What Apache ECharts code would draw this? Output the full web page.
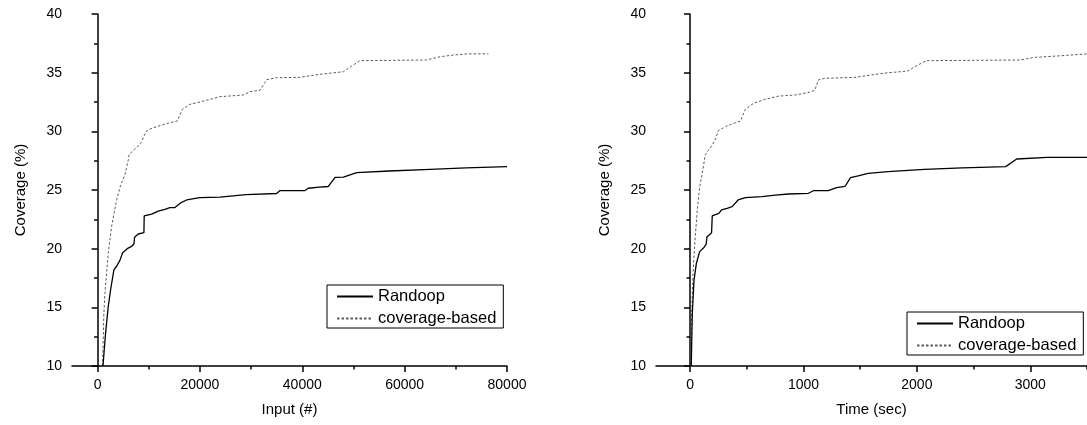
<!DOCTYPE html>
<html>
<head>
<meta charset="utf-8">
<script src="https://cdn.jsdelivr.net/npm/echarts@6/dist/echarts.min.js"></script>
<style>
html,body{margin:0;padding:0;background:#fff;}
#c{width:1087px;height:425px;}
</style>
</head>
<body>
<div id="c"></div>
<script>
// ---- data ----
const seriesNames = ['Randoop', 'coverage-based'];

const inputRandoopX = [1050, 1560, 2080, 2540, 3190, 3710, 4360, 4890, 5790, 6650, 7100, 7230, 7940, 9050, 9110, 10560, 11850, 13160, 14130, 15110, 16220, 17400, 20000, 23900, 29000, 35000, 35640, 36950, 40530, 41170, 43320, 45090, 46400, 48030, 50630, 57000, 64960, 72000, 80000];
const inputRandoopY = [10.0, 12.8, 15.05, 16.5, 18.2, 18.5, 19.0, 19.65, 20.0, 20.2, 20.4, 20.97, 21.25, 21.36, 22.8, 22.95, 23.2, 23.35, 23.5, 23.5, 23.9, 24.15, 24.35, 24.4, 24.6, 24.7, 24.95, 24.95, 24.95, 25.15, 25.25, 25.3, 26.08, 26.1, 26.48, 26.62, 26.76, 26.88, 26.99];

const inputCoverageX = [970, 1230, 1430, 2080, 2740, 3710, 4500, 5340, 5990, 6180, 7620, 8600, 9440, 10090, 11850, 14130, 15570, 16620, 18050, 20000, 23910, 28470, 29770, 31730, 33040, 35000, 39550, 43460, 48030, 49660, 51280, 64320, 66920, 69520, 72140, 76360];
const inputCoverageY = [10.0, 14.5, 16.2, 19.6, 21.9, 24.15, 25.4, 26.3, 27.55, 28.05, 28.6, 29.1, 29.97, 30.17, 30.45, 30.74, 30.88, 31.9, 32.3, 32.5, 32.95, 33.1, 33.38, 33.5, 34.4, 34.57, 34.6, 34.86, 35.08, 35.57, 36.02, 36.08, 36.36, 36.5, 36.6, 36.6];

const timeRandoopX = [11, 20, 35, 56, 85, 123, 143, 149, 190, 196, 254, 278, 327, 371, 424, 488, 634, 752, 868, 1044, 1088, 1219, 1292, 1366, 1415, 1482, 1570, 1746, 2067, 2400, 2783, 2880, 3149, 3500];
const timeRandoopY = [10.0, 14.5, 17.3, 18.75, 19.75, 20.1, 20.4, 21.0, 21.36, 22.8, 23.0, 23.3, 23.44, 23.58, 24.15, 24.35, 24.43, 24.57, 24.66, 24.72, 24.94, 24.94, 25.2, 25.3, 26.05, 26.2, 26.42, 26.56, 26.76, 26.88, 26.99, 27.64, 27.78, 27.78];

const timeCoverageX = [6, 15, 26, 44, 64, 85, 108, 132, 137, 196, 225, 249, 313, 371, 444, 488, 561, 664, 781, 927, 1040, 1100, 1132, 1190, 1454, 1702, 1921, 1980, 2082, 2915, 3032, 3237, 3500];
const timeCoverageY = [10.0, 14.5, 17.9, 20.74, 23.3, 25.28, 26.42, 27.84, 28.04, 28.84, 29.35, 30.06, 30.4, 30.63, 30.88, 31.88, 32.39, 32.73, 33.0, 33.1, 33.3, 33.5, 34.38, 34.52, 34.6, 34.95, 35.14, 35.5, 36.02, 36.08, 36.3, 36.42, 36.6];

const inputMajorTicks = [0, 20000, 40000, 60000, 80000];
const inputMinorTicks = [10000, 30000, 50000, 70000];
const timeMajorTicks = [0, 1000, 2000, 3000];
const timeMinorTicks = [500, 1500, 2500, 3500];
const xTitles = ['Input (#)', 'Time (sec)'];
const yTitle = 'Coverage (%)';

// ---- chart ----
const FONT = '"Liberation Sans", Arial, sans-serif';
const zip = (xs, ys) => xs.map((x, i) => [x, ys[i]]);
const plain = v => String(v);

function mainX(grid, min, max, ticks, name) {
  return {
    type: 'value', gridIndex: grid, min: min, max: max, position: 'bottom',
    axisLine: { show: true, onZero: false, lineStyle: { color: '#000', width: 1.5 } },
    axisTick: { show: true, customValues: ticks, length: 6, lineStyle: { color: '#000', width: 1.5 } },
    axisLabel: { customValues: ticks, fontSize: 14, color: '#000', margin: 12, fontFamily: FONT, formatter: plain },
    splitLine: { show: false },
    name: name, nameLocation: 'middle', nameGap: 36,
    nameTextStyle: { fontSize: 15, color: '#000', fontFamily: FONT }
  };
}
function minorX(grid, min, max, ticks) {
  return {
    type: 'value', gridIndex: grid, min: min, max: max, position: 'bottom', offset: 0,
    axisLine: { show: false },
    axisTick: { show: true, customValues: ticks, length: 3.5, lineStyle: { color: '#000', width: 1.5 } },
    axisLabel: { show: false },
    splitLine: { show: false }
  };
}
function yAx(grid) {
  return {
    type: 'value', gridIndex: grid, min: 10, max: 40, interval: 5,
    axisLine: { show: true, lineStyle: { color: '#000', width: 1.5 } },
    axisTick: { show: true, length: 6, lineStyle: { color: '#000', width: 1.5 } },
    minorTick: { show: true, splitNumber: 2, length: 3.5, lineStyle: { color: '#000', width: 1.5 } },
    axisLabel: { fontSize: 14, color: '#000', margin: 10, fontFamily: FONT, formatter: plain },
    splitLine: { show: false }, minorSplitLine: { show: false },
    name: yTitle, nameLocation: 'middle', nameGap: 44, nameRotate: 90,
    nameTextStyle: { fontSize: 15, color: '#000', fontFamily: FONT }
  };
}
const solid = { color: '#000', width: 1.3, type: 'solid' };
const dotted = { color: '#5a5a5a', width: 1, type: [2.5, 2] };
function ser(name, xi, yi, data, ls) {
  return {
    name: name, type: 'line', xAxisIndex: xi, yAxisIndex: yi, data: data,
    symbol: 'none', showSymbol: false, lineStyle: ls, itemStyle: { color: ls.color },
    clip: true, animation: false, z: name === seriesNames[0] ? 3 : 2
  };
}
function legend(left, top) {
  return {
    data: seriesNames, orient: 'vertical', left: left, top: top,
    itemWidth: 36, itemHeight: 14, itemGap: 5,
    padding: [3, 7, 1, 9],
    borderColor: '#000', borderWidth: 1, backgroundColor: '#fff',
    itemStyle: { color: 'rgba(0,0,0,0)', borderWidth: 0, opacity: 0 },
    textStyle: { fontSize: 16.5, color: '#000', fontFamily: FONT },
    selectedMode: false
  };
}

const chart = echarts.init(document.getElementById('c'), null, { renderer: 'canvas' });
chart.setOption({
  animation: false,
  backgroundColor: '#fff',
  textStyle: { fontFamily: FONT },
  grid: [
    { left: 72, top: 14, width: 435, height: 352 },
    { left: 656, top: 14, width: 433, height: 352 }
  ],
  xAxis: [
    mainX(0, -5000, 80000, inputMajorTicks, xTitles[0]),
    minorX(0, -5000, 80000, inputMinorTicks),
    mainX(1, -300, 3500, timeMajorTicks, xTitles[1]),
    minorX(1, -300, 3500, timeMinorTicks)
  ],
  yAxis: [yAx(0), yAx(1)],
  legend: [legend(327, 285), legend(907, 312)],
  series: [
    ser(seriesNames[0], 0, 0, zip(inputRandoopX, inputRandoopY), solid),
    ser(seriesNames[1], 0, 0, zip(inputCoverageX, inputCoverageY), dotted),
    ser(seriesNames[0], 2, 1, zip(timeRandoopX, timeRandoopY), solid),
    ser(seriesNames[1], 2, 1, zip(timeCoverageX, timeCoverageY), dotted)
  ]
});
</script>
</body>
</html>
